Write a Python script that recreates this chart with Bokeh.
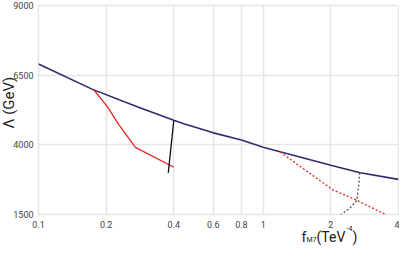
import numpy as np
from bokeh.plotting import figure
from bokeh.models import FixedTicker, Label, Range1d
from bokeh.embed import file_html
from bokeh.resources import INLINE

# ---- data ----
x_ticks = [0.1, 0.2, 0.4, 0.6, 0.8, 1, 2, 4]
x_tick_labels = {0.1: "0.1", 0.2: "0.2", 0.4: "0.4", 0.6: "0.6", 0.8: "0.8", 1: "1", 2: "2", 4: "4"}
y_ticks = [1500, 4000, 6500, 9000]

blue_f = [0.1, 0.174, 0.275, 0.4, 0.443, 0.6, 0.8, 1.0, 1.2, 2.0, 2.7, 4.0]
blue_L = [6900, 5990, 5370, 4880, 4760, 4430, 4170, 3910, 3740, 3270, 3000, 2760]

red_f = [0.176, 0.204, 0.226, 0.27, 0.40]
red_L = [5985, 5335, 4758, 3910, 3197]

black_f = [0.378, 0.40]
black_L = [2994, 4870]

red_dot_f = [1.19, 1.56, 2.04, 2.61, 3.55]
red_dot_L = [3740, 3062, 2383, 2010, 1480]

black_dot_f = [2.69, 2.66, 2.61, 2.44, 2.21]
black_dot_L = [3000, 2553, 2010, 1740, 1480]

W, H = 399, 246

p = figure(width=W, height=H, x_axis_type="log",
           x_range=Range1d(0.1, 4), y_range=Range1d(1500, 9000),
           output_backend="svg", toolbar_location=None,
           min_border_left=38, min_border_right=1,
           min_border_top=5, min_border_bottom=32)
p.outline_line_color = "#e6e6e6"
p.outline_line_width = 1.5
p.background_fill_color = "white"

for ax in (p.xaxis[0], p.yaxis[0]):
    ax.axis_line_color = None
    ax.major_tick_line_color = None
    ax.minor_tick_line_color = None
    ax.major_tick_out = 0
    ax.major_tick_in = 0
    ax.minor_tick_out = 0
    ax.minor_tick_in = 0
    ax.major_label_text_font = "Roboto"
    ax.major_label_text_font_size = "9px"
    ax.major_label_text_color = "#444444"

p.xaxis[0].ticker = FixedTicker(ticks=x_ticks)
p.xaxis[0].major_label_overrides = x_tick_labels
p.xaxis[0].major_label_standoff = 6
p.yaxis[0].ticker = FixedTicker(ticks=y_ticks)
p.yaxis[0].major_label_standoff = 5

p.xgrid[0].ticker = FixedTicker(ticks=x_ticks)
p.ygrid[0].ticker = FixedTicker(ticks=y_ticks)
for g in (p.xgrid[0], p.ygrid[0]):
    g.grid_line_color = "#e6e6e6"
    g.grid_line_width = 1.5
    g.minor_grid_line_color = None

p.line(blue_f, blue_L, line_color="#2f2c6c", line_width=1.6)
p.line(red_f, red_L, line_color="#e02424", line_width=1.3)
p.line(black_f, black_L, line_color="#111111", line_width=1.3)
p.line(red_dot_f, red_dot_L, line_color="#e02424", line_width=1.3, line_dash="2 2")
p.line(black_dot_f, black_dot_L, line_color="#555555", line_width=1.3, line_dash="2 2")

# transparent overlay figure (separate root, pulled up over the chart)
# carrying the axis titles, so that they are not clipped to the chart frame
q = figure(width=W, height=H, x_range=Range1d(0, W), y_range=Range1d(0, H),
           output_backend="svg", toolbar_location=None,
           x_axis_location=None, y_axis_location=None,
           min_border=0, min_border_left=0, min_border_right=0,
           min_border_top=0, min_border_bottom=0)
q.grid.visible = False
q.outline_line_color = None
q.background_fill_alpha = 0
q.border_fill_alpha = 0
q.margin = (-H, 0, 0, 0)

def lab(text, x, y, size, **kw):
    q.add_layout(Label(text=text, x=x, y=y, text_font="Roboto",
                       text_font_size=size, text_color="#222222", **kw))

lab("Λ (GeV)", 8, 144, "15px", angle=np.pi / 2, text_align="center",
    text_baseline="middle")
lab("f", 301, 10, "14px", text_align="left", text_baseline="alphabetic")
lab("M7", 306, 7, "7px", text_align="left", text_baseline="alphabetic")
lab("(TeV", 316, 10, "14px", text_align="left", text_baseline="alphabetic")
lab("-4", 346, 18, "7px", text_align="left", text_baseline="alphabetic")
lab(")", 352, 10, "14px", text_align="left", text_baseline="alphabetic")

open("out.html", "w").write(file_html([p, q], INLINE))
